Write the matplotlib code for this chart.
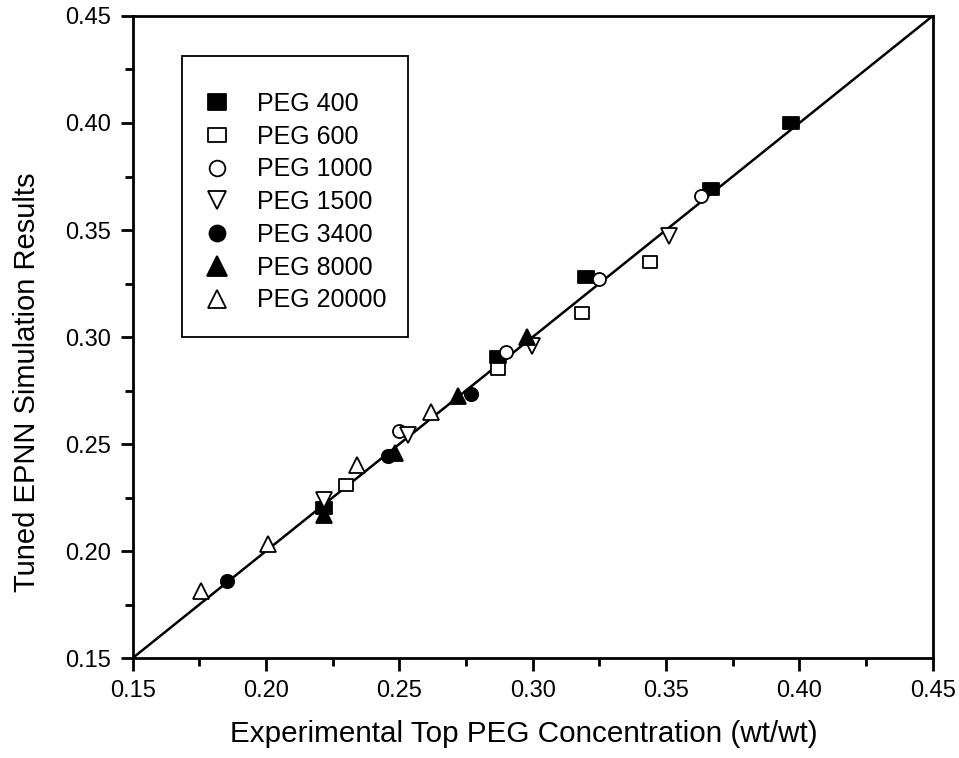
import numpy as np
import matplotlib
matplotlib.use("Agg")
import matplotlib.pyplot as plt
from matplotlib.path import Path
from matplotlib.patches import Rectangle
from matplotlib.ticker import MultipleLocator, FormatStrFormatter

plt.rcParams["font.family"] = ["Liberation Sans", "DejaVu Sans"]

# values (experimental, simulated)
labels = ["PEG 400", "PEG 600", "PEG 1000", "PEG 1500", "PEG 3400", "PEG 8000", "PEG 20000"]
peg400_x = [0.397, 0.367, 0.320, 0.287, 0.2217]
peg400_y = [0.400, 0.369, 0.328, 0.2905, 0.220]
peg600_x = [0.344, 0.3186, 0.287, 0.230]
peg600_y = [0.335, 0.311, 0.285, 0.231]
peg1000_x = [0.363, 0.325, 0.290, 0.250]
peg1000_y = [0.366, 0.327, 0.293, 0.256]
peg1500_x = [0.351, 0.2996, 0.2534, 0.2217]
peg1500_y = [0.347, 0.296, 0.254, 0.224]
peg3400_x = [0.2767, 0.2459, 0.1855]
peg3400_y = [0.2734, 0.2444, 0.186]
peg8000_x = [0.298, 0.272, 0.2484, 0.2217]
peg8000_y = [0.300, 0.2726, 0.2457, 0.2168]
peg20000_x = [0.262, 0.234, 0.2009, 0.1755]
peg20000_y = [0.265, 0.240, 0.2033, 0.1815]

xs = [peg400_x, peg600_x, peg1000_x, peg1500_x, peg3400_x, peg8000_x, peg20000_x]
ys = [peg400_y, peg600_y, peg1000_y, peg1500_y, peg3400_y, peg8000_y, peg20000_y]

# squares in the scan are a bit wider than tall
rect = Path([[-1.18, -1], [1.18, -1], [1.18, 1], [-1.18, 1], [-1.18, -1]],
            [Path.MOVETO, Path.LINETO, Path.LINETO, Path.LINETO, Path.CLOSEPOLY])
markers = [rect, rect, "o", "v", "o", "^", "^"]
filled = [True, False, False, False, True, True, False]
msizes = [10.8, 10.5, 9.4, 11, 9.6, 11.5, 11]

fig = plt.figure(figsize=(9.59, 7.58), dpi=100)
ax = fig.add_axes([0.1384, 0.1319, 0.8341, 0.8470])

ax.plot([0.15, 0.45], [0.15, 0.45], color="black", lw=1.8, zorder=2)

for i in range(len(labels)):
    ax.plot(xs[i], ys[i], linestyle="none", marker=markers[i], ms=msizes[i],
            mfc="black" if filled[i] else "white", mec="black", mew=1.3,
            label=labels[i], zorder=3)

ax.set_xlim(0.15, 0.45)
ax.set_ylim(0.15, 0.45)
ax.xaxis.set_major_locator(MultipleLocator(0.05))
ax.xaxis.set_minor_locator(MultipleLocator(0.025))
ax.yaxis.set_major_locator(MultipleLocator(0.05))
ax.yaxis.set_minor_locator(MultipleLocator(0.025))
ax.xaxis.set_major_formatter(FormatStrFormatter("%.2f"))
ax.yaxis.set_major_formatter(FormatStrFormatter("%.2f"))
ax.tick_params(which="both", direction="out", width=2.0, labelsize=17, top=False, right=False)
ax.tick_params(which="major", length=9, pad=7)
ax.tick_params(which="minor", length=5.5)
for s in ax.spines.values():
    s.set_linewidth(2.0)

ax.set_xlabel("Experimental Top PEG Concentration (wt/wt)", fontsize=21.3)
ax.xaxis.set_label_coords(0.4885, -0.097)
ax.set_ylabel("Tuned EPNN Simulation Results", fontsize=21)
ax.yaxis.set_label_coords(-0.115, 0.43)

# legend box drawn separately so its padding can match the scan
ax.add_patch(Rectangle((0.0613, 0.5005), 0.2829, 0.4372, transform=ax.transAxes,
                       fill=False, ec="black", lw=1.3, zorder=4))
leg = ax.legend(loc="upper left", bbox_to_anchor=(0.0925, 0.882), fontsize=18,
                frameon=False, borderpad=0, labelspacing=0.35, handletextpad=1.21,
                handlelength=0.8, borderaxespad=0, markerscale=1.2)

fig.savefig("out.png", dpi=100)
